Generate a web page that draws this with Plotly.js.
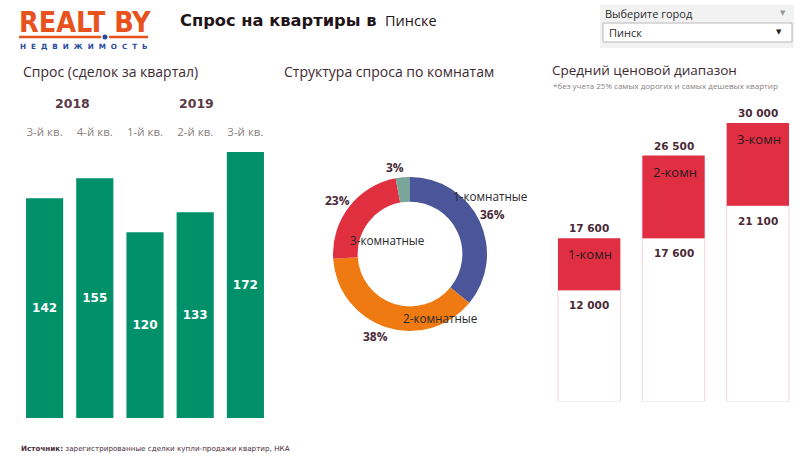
<!DOCTYPE html>
<html>
<head>
<meta charset="utf-8">
<script src="https://cdn.plot.ly/plotly-3.0.1.min.js"></script>
<style>
html,body{margin:0;padding:0;background:#fff;}
#chart{width:800px;height:464px;}
</style>
</head>
<body>
<div id="chart"></div>
<script>
// ---- data ----
const quarters = ["3-й кв.", "4-й кв.", "1-й кв.", "2-й кв.", "3-й кв."];
const years = ["2018", "2019"];
const deals = [142, 155, 120, 133, 172];

const roomLabels = ["1-комнатные", "2-комнатные", "3-комнатные", "4-комнатные"];
const roomShares = [36, 38, 23, 3];
const roomColors = ["#4a5699", "#f07a12", "#e0303f", "#7aa59a"];

const rangeCats = ["1-комн", "2-комн", "3-комн"];
const priceLow = [12000, 17600, 21100];
const priceHigh = [17600, 26500, 30000];

const city = "Пинске";
const cityPick = "Пинск";

// ---- helpers ----
const W = 800, H = 464;
const px = x => x / W;
const py = y => 1 - y / H;
const fmt = v => String(v).replace(/\B(?=(\d{3})+(?!\d))/g, " ");
const idx = quarters.map((_, i) => i);

const dark = "#3d2a32";
const maroon = "#4a2a36";
const textFont = "Open Sans, Noto Sans, sans-serif";

const traces = [
  {
    type: "bar", x: idx, y: deals, xaxis: "x", yaxis: "y",
    marker: {color: "#00916a"},
    text: deals.map(String), textposition: "inside", insidetextanchor: "middle",
    textangle: 0, constraintext: "none",
    textfont: {family: "DejaVu Sans", size: 12, color: "#ffffff", weight: "bold"},
    hoverinfo: "skip", showlegend: false
  },
  {
    type: "pie", labels: roomLabels, values: roomShares,
    marker: {colors: roomColors, line: {width: 0}},
    hole: 0.68, sort: false, direction: "clockwise", rotation: 0,
    textinfo: "none", hoverinfo: "skip", showlegend: false,
    domain: {x: [px(333), px(487)], y: [py(331), py(177)]}
  },
  {
    type: "bar", x: rangeCats, y: priceLow, xaxis: "x2", yaxis: "y2",
    marker: {color: "#ffffff", line: {color: "#f2d3d9", width: 1}},
    hoverinfo: "skip", showlegend: false
  },
  {
    type: "bar", x: rangeCats, y: priceHigh.map((h, i) => h - priceLow[i]), base: priceLow,
    xaxis: "x2", yaxis: "y2",
    marker: {color: "#e02f42", line: {width: 0}},
    hoverinfo: "skip", showlegend: false
  }
];

const annotations = [];
const A = (o) => annotations.push(Object.assign({showarrow: false, xref: "paper", yref: "paper"}, o));

// header
A({x: px(178), y: py(20), xanchor: "left", yanchor: "middle",
   text: "<b>Спрос на квартиры в</b>", font: {family: "DejaVu Sans", size: 16.3, color: "#1f1418"}});
A({x: px(383), y: py(20), xanchor: "left", yanchor: "middle",
   text: city, font: {family: textFont, size: 14.5, color: "#1f1418"}});

// logo
A({x: px(17), y: py(22), xanchor: "left", yanchor: "middle",
   text: "<b>REALT BY</b>", font: {family: "Liberation Sans Narrow, DejaVu Sans Condensed, Arial Narrow, sans-serif", size: 28.5, color: "#e8521c"}});
A({x: px(84), y: py(46), xanchor: "center", yanchor: "middle",
   text: "<b>Н  Е  Д  В  И  Ж  И  М  О  С  Т  Ь</b>", font: {family: "DejaVu Sans", size: 7.2, color: "#2a4aa0"}});

// dropdown
A({x: px(603), y: py(14), xanchor: "left", yanchor: "middle",
   text: "Выберите город", font: {family: textFont, size: 11, color: "#2a2a2a"}});
A({x: px(783), y: py(13), xanchor: "center", yanchor: "middle",
   text: "▼", font: {family: "DejaVu Sans", size: 7, color: "#999999"}});
A({x: px(607), y: py(33), xanchor: "left", yanchor: "middle",
   text: cityPick, font: {family: textFont, size: 11, color: "#2a2a2a"}});
A({x: px(779), y: py(32), xanchor: "center", yanchor: "middle",
   text: "▼", font: {family: "DejaVu Sans", size: 7, color: "#222222"}});

// section titles
A({x: px(21), y: py(72), xanchor: "left", yanchor: "middle",
   text: "Спрос (сделок за квартал)", font: {family: textFont, size: 14, color: dark}});
A({x: px(282), y: py(72), xanchor: "left", yanchor: "middle",
   text: "Структура спроса по комнатам", font: {family: textFont, size: 14, color: dark}});
A({x: px(550), y: py(70), xanchor: "left", yanchor: "middle",
   text: "Средний ценовой диапазон", font: {family: textFont, size: 13.5, color: dark}});
A({x: px(551), y: py(85), xanchor: "left", yanchor: "middle",
   text: "*без учета 25% самых дорогих и самых дешевых квартир", font: {family: textFont, size: 8, color: "#8a8080"}});

// years
A({x: px(72), y: py(103), xanchor: "center", yanchor: "middle",
   text: "<b>" + years[0] + "</b>", font: {family: "DejaVu Sans", size: 12.5, color: "#5a3a46"}});
A({x: px(196), y: py(103), xanchor: "center", yanchor: "middle",
   text: "<b>" + years[1] + "</b>", font: {family: "DejaVu Sans", size: 12.5, color: "#5a3a46"}});

// pie labels
const pieLabelPos = [[490, 196], [440, 318], [387, 240]];
const piePctPos = [[492, 214], [375, 336], [337, 200], [395, 168]];
pieLabelPos.forEach((p, i) => A({x: px(p[0]), y: py(p[1]), xanchor: "center", yanchor: "middle",
   text: roomLabels[i], font: {family: textFont, size: 11.7, color: "#2a2a2a"}}));
piePctPos.forEach((p, i) => A({x: px(p[0]), y: py(p[1]), xanchor: "center", yanchor: "middle",
   text: "<b>" + roomShares[i] + "%</b>", font: {family: textFont, size: 12, color: maroon}}));

// range labels
rangeCats.forEach((c, i) => {
  annotations.push({xref: "x2", yref: "y2", x: c, y: priceHigh[i], yshift: 10, showarrow: false,
    xanchor: "center", yanchor: "middle", text: "<b>" + fmt(priceHigh[i]) + "</b>",
    font: {family: "DejaVu Sans", size: 10.5, color: maroon}});
  annotations.push({xref: "x2", yref: "y2", x: c, y: priceLow[i], yshift: -15, showarrow: false,
    xanchor: "center", yanchor: "middle", text: "<b>" + fmt(priceLow[i]) + "</b>",
    font: {family: "DejaVu Sans", size: 10.5, color: maroon}});
  annotations.push({xref: "x2", yref: "y2", x: c, y: priceHigh[i], yshift: -16, xshift: -23, showarrow: false,
    xanchor: "left", yanchor: "middle", text: c,
    font: {family: textFont, size: 13, color: "#2a1a1f"}});
});

// footer
A({x: px(19), y: py(448), xanchor: "left", yanchor: "middle",
   text: "<b>Источник:</b> зарегистрированные сделки купли-продажи квартир, НКА",
   font: {family: "DejaVu Sans", size: 7.2, color: "#4a2f3a"}});

const shapes = [
  // logo underline
  {type: "line", xref: "paper", yref: "paper", x0: px(19), x1: px(101), y0: py(37), y1: py(37), line: {color: "#e8521c", width: 2.5}},
  {type: "line", xref: "paper", yref: "paper", x0: px(109), x1: px(148), y0: py(37), y1: py(37), line: {color: "#e8521c", width: 2.5}},
  {type: "circle", xref: "paper", yref: "paper", x0: px(102.5), x1: px(107.5), y0: py(39.5), y1: py(34.5), fillcolor: "#2a4aa0", line: {width: 0}},
  // dropdown
  {type: "rect", xref: "paper", yref: "paper", x0: px(600), x1: px(794), y0: py(48), y1: py(5), fillcolor: "#f2f2f2", line: {width: 0}, layer: "below"},
  {type: "rect", xref: "paper", yref: "paper", x0: px(603), x1: px(792), y0: py(42), y1: py(23), fillcolor: "#ffffff", line: {color: "#b8b8b8", width: 1}, layer: "below"}
];

const layout = {
  width: W, height: H,
  margin: {l: 0, r: 0, t: 0, b: 0},
  paper_bgcolor: "#ffffff", plot_bgcolor: "rgba(0,0,0,0)",
  bargap: 0.26,
  barmode: "overlay",
  xaxis: {domain: [px(19.5), px(270.5)], range: [-0.5, 4.5], side: "top",
          tickvals: idx, ticktext: quarters, showgrid: false, zeroline: false, showline: false,
          ticks: "", tickfont: {family: textFont, size: 11.5, color: "#8a7f80"}, ticklabelstandoff: 0, fixedrange: true},
  yaxis: {domain: [py(418), py(139.5)], range: [0, 180], visible: false, fixedrange: true},
  xaxis2: {domain: [px(547), px(801)], range: [-0.5, 2.5], anchor: "y2", visible: false, fixedrange: true},
  yaxis2: {domain: [py(401.5), py(104.5)], range: [0, 32000], anchor: "x2", visible: false, fixedrange: true},
  annotations: annotations,
  shapes: shapes,
  showlegend: false
};

Plotly.newPlot("chart", traces, layout, {displayModeBar: false, staticPlot: true});
</script>
</body>
</html>
